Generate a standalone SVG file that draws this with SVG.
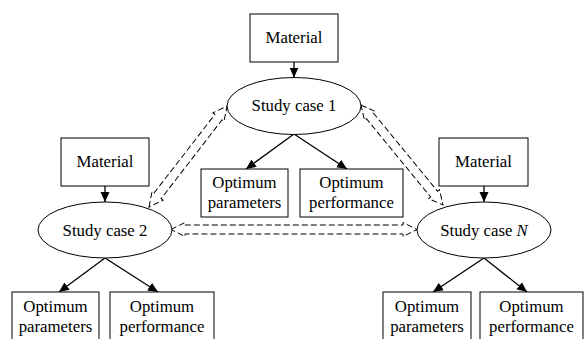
<svg xmlns="http://www.w3.org/2000/svg" width="586" height="339" viewBox="0 0 586 339">
<style>
.box{fill:#fff;stroke:#000;stroke-width:1}
.ell{fill:#fff;stroke:#000;stroke-width:1}
.t{font-family:"Liberation Serif","Times New Roman",serif;font-size:16.8px;fill:#000;text-anchor:middle}
.sol{stroke:#000;stroke-width:1.3;fill:none;marker-end:url(#ah)}
.dsh{fill:none;stroke:#000;stroke-width:1;stroke-dasharray:6,3}
</style>
<defs>
<marker id="ah" markerUnits="userSpaceOnUse" markerWidth="10" markerHeight="10" refX="10" refY="5" orient="auto">
<path d="M0,0.5 L10,5 L0,9.5 Z" fill="#000"/>
</marker>
</defs>
<rect width="586" height="339" fill="#fff"/>
<g id="connectors">
<line class="sol" x1="294" y1="62" x2="294" y2="77.5"/>
<line class="sol" x1="294" y1="134" x2="246" y2="169"/>
<line class="sol" x1="294" y1="134" x2="347" y2="169"/>
<line class="sol" x1="105" y1="186" x2="105" y2="202"/>
<line class="sol" x1="105" y1="258" x2="59" y2="292"/>
<line class="sol" x1="105" y1="258" x2="158" y2="292"/>
<line class="sol" x1="484" y1="186" x2="484" y2="202"/>
<line class="sol" x1="484" y1="258" x2="433" y2="292"/>
<line class="sol" x1="484" y1="258" x2="527" y2="292"/>
<path class="dsh" transform="translate(149,207) rotate(-52.3)" d="M0,0 L14,-7 L14,-4.5 L113.6,-4.5 L113.6,-7 L127.6,0 L113.6,7 L113.6,4.5 L14,4.5 L14,7 Z"/>
<path class="dsh" transform="translate(361,105) rotate(50.65)" d="M0,0 L14,-7 L14,-4.5 L115.3,-4.5 L115.3,-7 L129.3,0 L115.3,7 L115.3,4.5 L14,4.5 L14,7 Z"/>
<path class="dsh" transform="translate(171,229.5)" d="M0,0 L14,-7 L14,-4.5 L232,-4.5 L232,-7 L246,0 L232,7 L232,4.5 L14,4.5 L14,7 Z"/>
</g>
<g id="material1"><rect class="box" x="250" y="14" width="88" height="48"/><text class="t" x="294" y="43">Material</text></g>
<g id="case1"><ellipse class="ell" cx="294" cy="106" rx="67" ry="28.5"/><text class="t" x="294" y="111">Study case 1</text></g>
<g id="params1"><rect class="box" x="201" y="169" width="87" height="48"/><text class="t" x="244.5" y="188">Optimum</text><text class="t" x="244.5" y="207.5">parameters</text></g>
<g id="perf1"><rect class="box" x="300" y="169" width="103" height="48"/><text class="t" x="351.5" y="188">Optimum</text><text class="t" x="351.5" y="207.5">performance</text></g>
<g id="material2"><rect class="box" x="61" y="138" width="88" height="48"/><text class="t" x="105" y="167">Material</text></g>
<g id="case2"><ellipse class="ell" cx="105" cy="230" rx="67" ry="28"/><text class="t" x="105" y="235.5">Study case 2</text></g>
<g id="params2"><rect class="box" x="12" y="292" width="87" height="50"/><text class="t" x="55.5" y="311.5">Optimum</text><text class="t" x="55.5" y="331.5">parameters</text></g>
<g id="perf2"><rect class="box" x="110" y="292" width="104" height="50"/><text class="t" x="162" y="311.5">Optimum</text><text class="t" x="162" y="331.5">performance</text></g>
<g id="materialN"><rect class="box" x="439" y="138" width="89" height="48"/><text class="t" x="483.5" y="167">Material</text></g>
<g id="caseN"><ellipse class="ell" cx="484" cy="230" rx="67" ry="28"/><text class="t" x="484" y="235.5">Study case <tspan font-style="italic">N</tspan></text></g>
<g id="paramsN"><rect class="box" x="383" y="292" width="88" height="50"/><text class="t" x="427" y="311.5">Optimum</text><text class="t" x="427" y="331.5">parameters</text></g>
<g id="perfN"><rect class="box" x="480" y="292" width="103" height="50"/><text class="t" x="531.5" y="311.5">Optimum</text><text class="t" x="531.5" y="331.5">performance</text></g>
</svg>
